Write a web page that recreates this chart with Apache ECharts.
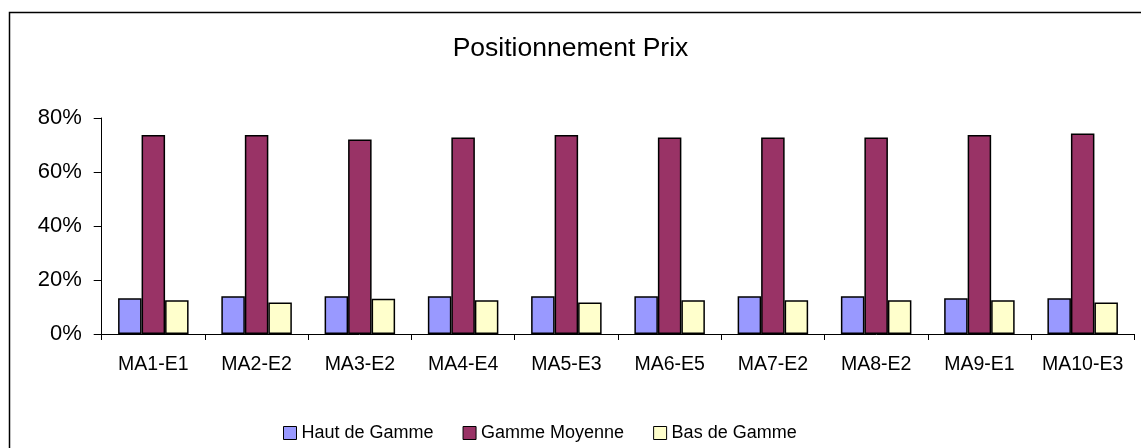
<!DOCTYPE html>
<html>
<head>
<meta charset="utf-8">
<script src="https://cdn.jsdelivr.net/npm/echarts@6/dist/echarts.min.js"></script>
<style>
  html, body { margin: 0; padding: 0; background: #fff; }
  #chart { width: 1141px; height: 448px; }
</style>
</head>
<body>
<div id="chart"></div>
<script>
// catégories et valeurs (en %)
var categories = ['MA1-E1', 'MA2-E2', 'MA3-E2', 'MA4-E4', 'MA5-E3', 'MA6-E5', 'MA7-E2', 'MA8-E2', 'MA9-E1', 'MA10-E3'];
var hautDeGamme = [13.2, 14.0, 14.0, 14.0, 14.0, 14.0, 14.0, 14.0, 13.2, 13.2];
var gammeMoyenne = [73.7, 73.7, 72.0, 72.8, 73.7, 72.8, 72.8, 72.8, 73.7, 74.3];
var basDeGamme = [12.5, 11.7, 13.1, 12.5, 11.7, 12.5, 12.5, 12.5, 12.5, 11.7];
var yTicks = [0, 20, 40, 60, 80];

var font = '"Liberation Sans", Arial, sans-serif';
var chart = echarts.init(document.getElementById('chart'));

function barSerie(name, data, color) {
  return {
    name: name,
    type: 'bar',
    data: data,
    barWidth: 23.5,
    barGap: '0%',
    itemStyle: { color: color, borderColor: '#000', borderWidth: 1.5 }
  };
}

var option = {
  backgroundColor: '#fff',
  animation: false,
  title: {
    text: 'Positionnement Prix',
    left: 'center',
    top: 35,
    padding: 0,
    textStyle: { fontFamily: font, fontSize: 26.5, fontWeight: 'normal', color: '#000' }
  },
  legend: {
    left: 278,
    top: 419,
    itemWidth: 13,
    itemHeight: 13,
    itemGap: 29,
    icon: 'rect',
    itemStyle: { borderColor: '#000', borderWidth: 1 },
    textStyle: { fontFamily: font, fontSize: 18, color: '#000' },
    data: ['Haut de Gamme', 'Gamme Moyenne', 'Bas de Gamme']
  },
  grid: {
    left: 101.7,
    right: 6.7,
    top: 118,
    bottom: 114,
    outerBoundsMode: 'none'
  },
  xAxis: {
    type: 'category',
    data: categories,
    axisLine: { lineStyle: { color: '#000', width: 1 } },
    axisTick: { show: true, length: 6, lineStyle: { color: '#000' } },
    axisLabel: { fontFamily: font, fontSize: 19.5, color: '#000', margin: 21, interval: 0 }
  },
  yAxis: {
    type: 'value',
    min: yTicks[0],
    max: yTicks[yTicks.length - 1],
    interval: 20,
    axisLine: { show: true, lineStyle: { color: '#000', width: 1 } },
    axisTick: { show: true, length: 8, lineStyle: { color: '#000' } },
    splitLine: { show: false },
    axisLabel: { fontFamily: font, fontSize: 22, color: '#000', margin: 20, formatter: '{value}%' }
  },
  graphic: [{
    type: 'rect',
    silent: true,
    z: -1,
    shape: { x: 9.5, y: 12.5, width: 1200, height: 600 },
    style: { fill: null, stroke: '#000', lineWidth: 1.5 }
  }],
  series: [
    barSerie('Haut de Gamme', hautDeGamme, '#9999FF'),
    barSerie('Gamme Moyenne', gammeMoyenne, '#993366'),
    barSerie('Bas de Gamme', basDeGamme, '#FFFFCC')
  ]
};

chart.setOption(option);
</script>
</body>
</html>
